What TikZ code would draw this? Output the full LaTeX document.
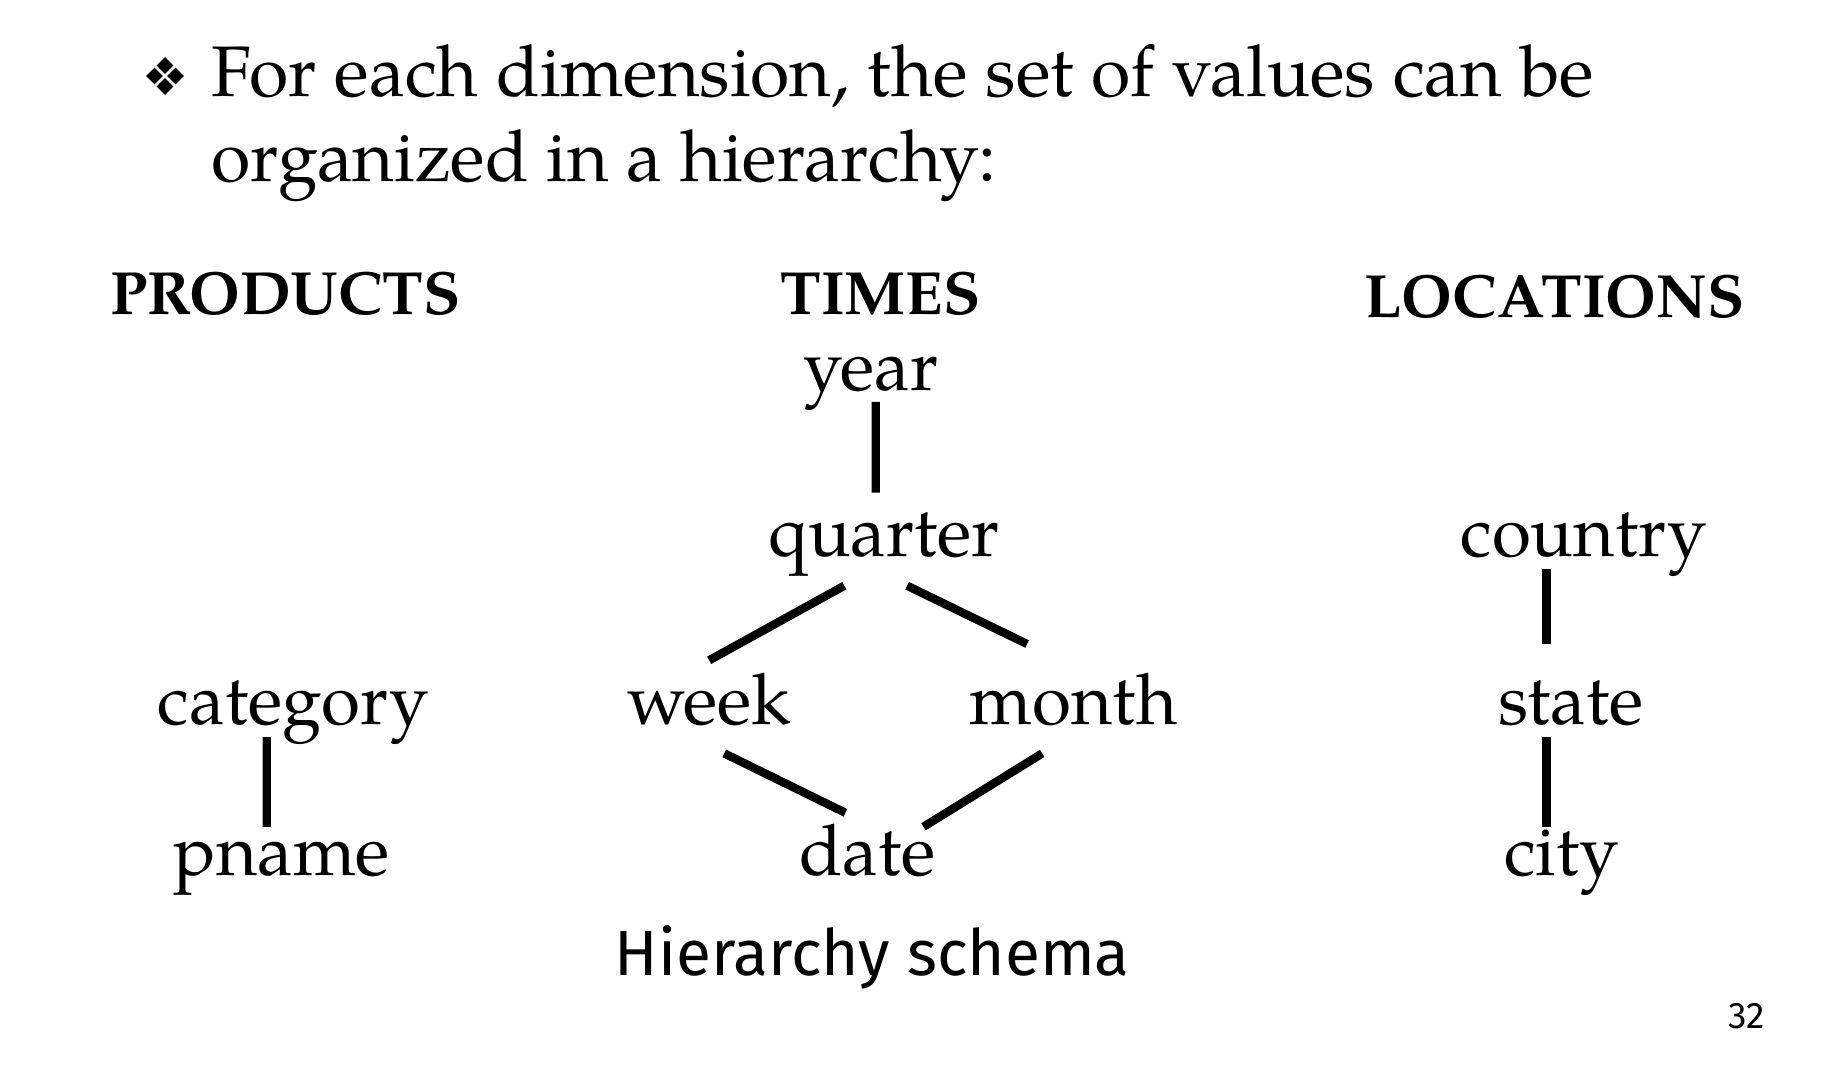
\documentclass[tikz,border=0pt]{standalone}
\usepackage{fontspec}
\setmainfont{texgyrepagella}[Extension=.otf, UprightFont=*-regular, BoldFont=*-bold, ItalicFont=*-italic, BoldItalicFont=*-bolditalic]
\newfontfamily\comicfont{Fira Sans}
\begin{document}
\begin{tikzpicture}[x=0.5pt,y=-0.5pt,
  txt/.style={inner sep=0pt, outer sep=0pt, anchor=base},
  title/.style={txt, anchor=base west, font=\fontsize{35.8}{42}\selectfont},
  head/.style={txt, font=\fontsize{30.5}{36}\selectfont\bfseries},
  lbl/.style={txt, font=\fontsize{35.5}{42}\selectfont},
  comic/.style={txt, font=\fontsize{32}{38}\comicfont},
  link/.style={line width=4.2pt, line cap=butt},
  dia/.style={fill=black}]
\useasboundingbox (0,0) rectangle (1826,1072);
% bullet
\foreach \cx/\cy in {165/65.5, 154.5/76, 175.5/76, 165/86.5}
  \fill[dia] (\cx,\cy-8.3) -- (\cx+8.3,\cy) -- (\cx,\cy+8.3) -- (\cx-8.3,\cy) -- cycle;
\node[title] (t1) at (211.7,96.7) {For each dimension, the set of values can be};
\node[title] (t2) at (211.7,181.7) {organized in a hierarchy:};
% headings
\node[head] (hp) at (285.3,314.4) {PRODUCTS};
\node[head] (ht) at (880.4,314.4) {TIMES};
\node[head] (hl) at (1554.6,317.9) {LOCATIONS};
% nodes
\node[lbl] (year) at (871,390) {year};
\node[lbl] (quarter) at (883.9,556.6) {quarter};
\node[lbl] (week) at (709.2,724.3) {week};
\node[lbl] (month) at (1073.7,724.3) {month};
\node[lbl] (date) at (867.6,875.7) {date};
\node[lbl] (category) at (293.5,724.3) {category};
\node[lbl] (pname) at (281.8,875.7) {pname};
\node[lbl] (country) at (1583.7,556.6) {country};
\node[lbl] (state) at (1571,724.3) {state};
\node[lbl] (city) at (1561.6,875.7) {city};
\node[comic] (hs) at (872.2,975.9) {Hierarchy schema};
\node[comic, anchor=base east, font=\fontsize{18.5}{22}\comicfont] (pg) at (1765,1028.3) {32};
% connectors
\draw[link] ([shift={(4.7,11.8)}]year.base) -- ([shift={(-8.2,-64)}]quarter.base);
\draw[link] ([shift={(-39.6,29.1)}]quarter.base) -- ([shift={(0,-64)}]week.base);
\draw[link] ([shift={(23.2,29.1)}]quarter.base) -- ([shift={(-46.6,-80.3)}]month.base);
\draw[link] ([shift={(15.1,29.1)}]week.base) -- ([shift={(-22.2,-62.9)}]date.base);
\draw[link] ([shift={(-31.5,29.1)}]month.base) -- ([shift={(55.9,-48.9)}]date.base);
\draw[link] ([shift={(-26.8,12.8)}]category.base) -- ([shift={(-15.1,-48.9)}]pname.base);
\draw[link] ([shift={(-37.2,12.8)}]country.base) -- ([shift={(-24.5,-80.3)}]state.base);
\draw[link] ([shift={(-24.5,12.8)}]state.base) -- ([shift={(-15.1,-48.9)}]city.base);
\end{tikzpicture}
\end{document}
